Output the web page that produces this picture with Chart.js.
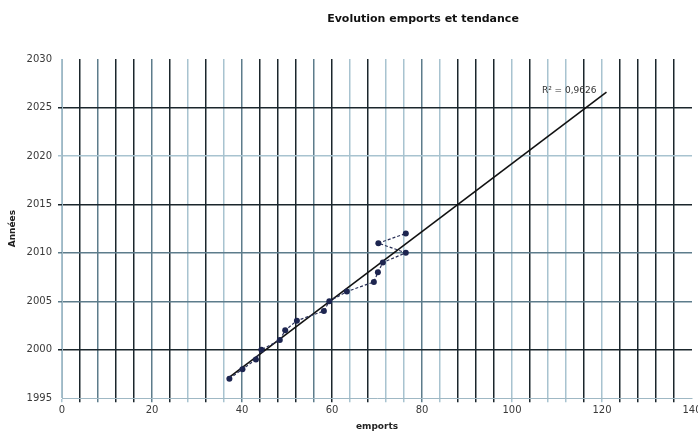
<!DOCTYPE html>
<html>
<head>
<meta charset="utf-8">
<script src="https://cdn.jsdelivr.net/npm/chart.js@4.4.1/dist/chart.umd.min.js"></script>
<style>
    html, body { margin: 0; padding: 0; background: #ffffff; overflow: hidden; }
    #wrap { position: absolute; left: 0; top: 0; width: 720px; height: 432px; }
</style>
</head>
<body>
<div id="wrap"><canvas id="chart"></canvas></div>
<script>
const years = [1997, 1998, 1999, 2000, 2001, 2002, 2003, 2004, 2005, 2006, 2007, 2008, 2009, 2010, 2011, 2012];
const emports = [37.2, 40.1, 43.1, 44.3, 48.4, 49.6, 52.2, 58.2, 59.4, 63.3, 69.3, 70.2, 71.3, 76.4, 70.3, 76.4];
const trendEnd = 121;
const r2Label = 'R² = 0,9626';
const chartTitle = 'Evolution emports et tendance';

// couleurs des lignes verticales (effet du scan)
const D = '#1b262c', M = '#5d7c8b', L = '#a8c3d0';
const xGridColors = [L, D, M, D, D, M, D, L, D, L, M, D, D, D, M, D, L, D, L, L, M, L, D, D, D, L, D, L, L, D, L, D, D, D, D, 'rgba(0,0,0,0)'];
const yGridColors = ['rgba(0,0,0,0)', D, M, M, D, L, D, 'rgba(0,0,0,0)'];

Chart.defaults.font.family = '"DejaVu Sans", Verdana, sans-serif';

// droite de tendance (moindres carrés)
function linReg(xs, ys) {
    var n = xs.length, sx = 0, sy = 0, sxx = 0, sxy = 0;
    for (var i = 0; i < n; i++) {
        sx += xs[i]; sy += ys[i]; sxx += xs[i] * xs[i]; sxy += xs[i] * ys[i];
    }
    var a = (n * sxy - sx * sy) / (n * sxx - sx * sx);
    return { a: a, b: (sy - a * sx) / n };
}
const reg = linReg(emports, years);
const trendStart = Math.min.apply(null, emports) - 0.5;

const points = emports.map((x, i) => ({ x: x, y: years[i] }));
const trend = [
    { x: trendStart, y: reg.a * trendStart + reg.b },
    { x: trendEnd, y: reg.a * trendEnd + reg.b }
];

const extraText = {
    id: 'extraText',
    afterDraw(chart) {
        const ctx = chart.ctx;
        const xs = chart.scales.x, ys = chart.scales.y;
        ctx.save();
        ctx.fillStyle = '#111111';
        ctx.font = 'bold 11px "DejaVu Sans", Verdana, sans-serif';
        ctx.textAlign = 'center';
        ctx.textBaseline = 'middle';
        ctx.fillText(chartTitle, 423, 19);
        ctx.font = '9px "DejaVu Sans", Verdana, sans-serif';
        ctx.fillStyle = '#333333';
        ctx.textAlign = 'right';
        ctx.fillText(r2Label, xs.getPixelForValue(trend[1].x) - 10, ys.getPixelForValue(trend[1].y) - 1);
        ctx.restore();
    }
};

new Chart(document.getElementById('chart'), {
    type: 'scatter',
    data: {
        datasets: [{
            label: 'emports',
            data: points,
            showLine: true,
            borderColor: '#2a3158',
            borderWidth: 1.2,
            borderDash: [3, 2],
            backgroundColor: '#1d2550',
            pointRadius: 3,
            pointBorderWidth: 0
        }, {
            label: 'tendance',
            data: trend,
            showLine: true,
            borderColor: '#111111',
            borderWidth: 1.6,
            pointRadius: 0
        }]
    },
    options: {
        responsive: true,
        maintainAspectRatio: false,
        animation: false,
        layout: { padding: { top: 59, right: 28, left: 7, bottom: 0 } },
        plugins: {
            legend: { display: false },
            tooltip: { enabled: false },
            title: { display: false }
        },
        scales: {
            x: {
                type: 'linear',
                min: 0,
                max: 140,
                ticks: {
                    stepSize: 4,
                    autoSkip: false,
                    maxRotation: 0,
                    color: '#3a3a3a',
                    font: { size: 10 },
                    padding: 2,
                    callback: v => (v % 20 === 0 ? String(v) : '')
                },
                grid: {
                    color: ctx => xGridColors[ctx.index] || L,
                    lineWidth: 1.5,
                    tickLength: 4
                },
                border: { display: true, color: '#9fb8c4' },
                title: {
                    display: true,
                    text: 'emports',
                    color: '#222222',
                    font: { size: 9, weight: 'bold' },
                    padding: { top: 3, bottom: 0 }
                }
            },
            y: {
                type: 'linear',
                min: 1995,
                max: 2030,
                afterFit: scale => { scale.width = 55; },
                ticks: {
                    stepSize: 5,
                    color: '#3a3a3a',
                    font: { size: 10 },
                    padding: 6,
                    callback: v => String(v)
                },
                grid: {
                    color: ctx => yGridColors[ctx.index] || L,
                    lineWidth: 1.5,
                    tickLength: 4
                },
                border: { display: true, color: '#9fb8c4' },
                title: {
                    display: true,
                    text: 'Années',
                    color: '#222222',
                    font: { size: 9, weight: 'bold' },
                    padding: { top: 0, bottom: 4 }
                }
            }
        }
    },
    plugins: [extraText]
});
</script>
</body>
</html>
